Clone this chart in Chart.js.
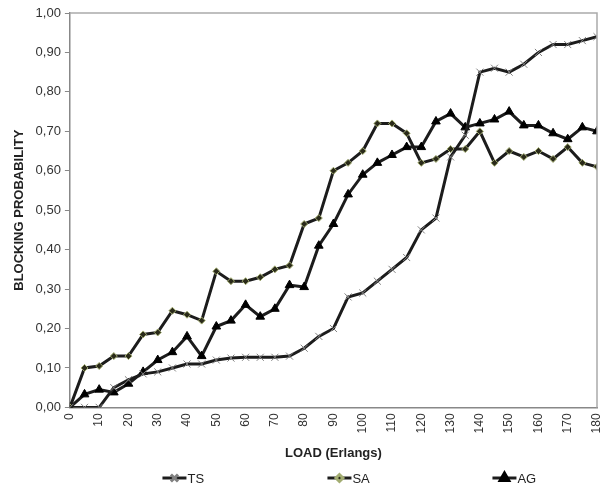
<!DOCTYPE html>
<html>
<head>
<meta charset="utf-8">
<script src="https://cdn.jsdelivr.net/npm/chart.js@4/dist/chart.umd.min.js"></script>
<style>
  html, body { margin: 0; padding: 0; background: #fff; }
  #wrap { width: 611px; height: 489px; }
</style>
</head>
<body>
<div id="wrap"><canvas id="myChart"></canvas></div>
<script>
// load values (Erlangs), one point every 5
const loads = [0,5,10,15,20,25,30,35,40,45,50,55,60,65,70,75,80,85,90,95,100,
  105,110,115,120,125,130,135,140,145,150,155,160,165,170,175,180];

const tsValues = [0,0,0,0.05,0.07,0.085,0.09,0.10,0.11,0.11,0.12,0.125,0.127,0.127,0.127,0.13,0.15,0.18,0.20,0.28,0.29,
  0.32,0.35,0.38,0.45,0.48,0.635,0.69,0.85,0.86,0.85,0.87,0.90,0.92,0.92,0.93,0.94];

const saValues = [0,0.10,0.105,0.13,0.13,0.185,0.19,0.245,0.235,0.22,0.345,0.32,0.32,0.33,0.35,0.36,0.465,0.48,0.60,0.62,0.65,
  0.72,0.72,0.695,0.62,0.63,0.655,0.655,0.70,0.62,0.65,0.635,0.65,0.63,0.66,0.62,0.61];

const agValues = [0,0.033,0.045,0.038,0.06,0.09,0.12,0.14,0.18,0.13,0.205,0.22,0.26,0.23,0.25,0.31,0.305,0.41,0.465,0.54,0.59,
  0.62,0.64,0.66,0.66,0.725,0.745,0.71,0.72,0.73,0.75,0.715,0.715,0.695,0.68,0.71,0.70];

const xTicks = { min: 0, max: 180, step: 10 };
const yTicks = { min: 0, max: 1, step: 0.1 };

const lineColor = '#1c1c1c';
const fontFamily = "'Liberation Sans', Arial, sans-serif";

function toPoints(vals) {
  return loads.map((x, i) => ({ x: x, y: vals[i] }));
}

// chart box: top and right edges
const boxBorder = {
  id: 'boxBorder',
  afterDatasetsDraw(chart) {
    const a = chart.chartArea, ctx = chart.ctx;
    ctx.save();
    ctx.strokeStyle = '#aaaaaa';
    ctx.lineWidth = 1.5;
    ctx.beginPath();
    ctx.moveTo(a.left, a.top);
    ctx.lineTo(a.right, a.top);
    ctx.lineTo(a.right, a.bottom);
    ctx.stroke();
    ctx.restore();
  }
};

// excel-like legend: short line with the marker in the middle, then the name
const lineLegend = {
  id: 'lineLegend',
  afterDraw(chart) {
    const ctx = chart.ctx;
    const a = chart.chartArea;
    const y = chart.height - 11;
    const mid = (a.left + a.right) / 2 + 6;
    const gap = 165;
    ctx.save();
    chart.data.datasets.forEach((ds, i) => {
      const cx = mid + (i - 1) * gap;
      ctx.strokeStyle = lineColor;
      ctx.lineWidth = 3;
      ctx.beginPath();
      ctx.moveTo(cx - 12, y);
      ctx.lineTo(cx + 12, y);
      ctx.stroke();
      ctx.fillStyle = ds.pointBackgroundColor;
      ctx.strokeStyle = ds.pointBorderColor;
      Chart.helpers.drawPoint(ctx, {
        pointStyle: ds.pointStyle,
        radius: ds.pointRadius,
        borderWidth: ds.pointBorderWidth,
        rotation: 0
      }, cx, y);
      ctx.fillStyle = '#222';
      ctx.font = '13px ' + fontFamily;
      ctx.textBaseline = 'middle';
      ctx.textAlign = 'left';
      ctx.fillText(ds.label, cx + 13, y + 1);
    });
    ctx.restore();
  }
};

const ctx = document.getElementById('myChart').getContext('2d');

const myChart = new Chart(ctx, {
  type: 'line',
  data: {
    datasets: [
      {
        label: 'TS',
        data: toPoints(tsValues),
        borderColor: lineColor,
        borderWidth: 3,
        pointStyle: 'crossRot',
        pointRadius: 5,
        pointBorderColor: '#808080',
        pointBorderWidth: 1,
        pointBackgroundColor: '#808080',
        tension: 0
      },
      {
        label: 'SA',
        data: toPoints(saValues),
        borderColor: lineColor,
        borderWidth: 3,
        pointStyle: 'rectRot',
        pointRadius: 3.5,
        pointBorderColor: '#a3ad72',
        pointBorderWidth: 1,
        pointBackgroundColor: '#2a2a1a',
        tension: 0
      },
      {
        label: 'AG',
        data: toPoints(agValues),
        borderColor: lineColor,
        borderWidth: 3,
        pointStyle: 'triangle',
        pointRadius: 5,
        pointBorderColor: '#000',
        pointBorderWidth: 1,
        pointBackgroundColor: '#000',
        tension: 0
      }
    ]
  },
  options: {
    responsive: true,
    maintainAspectRatio: false,
    animation: false,
    layout: { padding: { top: 13, right: 14, left: 12, bottom: 26 } },
    plugins: {
      tooltip: { enabled: false },
      legend: { display: false }
    },
    scales: {
      x: {
        type: 'linear',
        min: xTicks.min,
        max: xTicks.max,
        afterFit: s => { s.paddingRight = 0; s.paddingLeft = 0; },
        grid: { drawOnChartArea: false, drawTicks: false, color: '#888' },
        border: { color: '#888', width: 1.5 },
        ticks: {
          stepSize: xTicks.step,
          minRotation: 90,
          maxRotation: 90,
          padding: 6,
          color: '#333',
          font: { family: fontFamily, size: 12 }
        },
        title: {
          display: true,
          text: 'LOAD (Erlangs)',
          color: '#222',
          font: { family: fontFamily, size: 13, weight: 'bold' },
          padding: { top: 6, bottom: 2 }
        }
      },
      y: {
        min: yTicks.min,
        max: yTicks.max,
        grid: { drawOnChartArea: false, drawTicks: true, tickLength: 5, color: '#888' },
        border: { color: '#888', width: 1.5 },
        ticks: {
          stepSize: yTicks.step,
          padding: 4,
          color: '#333',
          font: { family: fontFamily, size: 13 },
          callback: v => v.toFixed(2).replace('.', ',')
        },
        title: {
          display: true,
          text: 'BLOCKING PROBABILITY',
          color: '#222',
          font: { family: fontFamily, size: 13, weight: 'bold' },
          padding: { top: 0, bottom: 4 }
        }
      }
    }
  },
  plugins: [boxBorder, lineLegend]
});
</script>
</body>
</html>
